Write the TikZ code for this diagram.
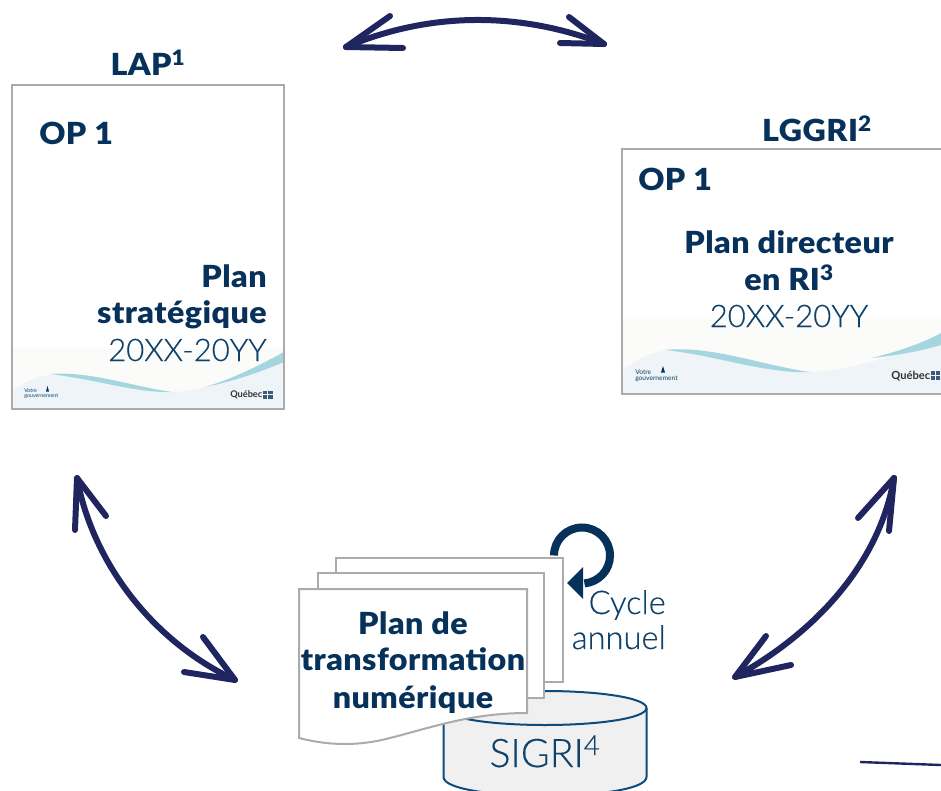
\documentclass[tikz,border=0pt]{standalone}
\usepackage{fontspec}
\setmainfont{Lato}
\newfontfamily\lightf[RawFeature={embolden=0.35}]{Lato Light}
\newfontfamily\heavyf[RawFeature={extend=1.06},LetterSpace=1.5]{Lato Black}
\usetikzlibrary{calc}
\definecolor{navy}{HTML}{20245F}
\definecolor{ink}{HTML}{06315A}
\definecolor{inkl}{HTML}{0F426B}
\definecolor{pageline}{HTML}{ABABAB}
\definecolor{wavefill}{HTML}{EEF4F7}
\definecolor{waveband}{HTML}{FBFBF9}
\definecolor{teal}{HTML}{A5D5DE}
\definecolor{cyl}{HTML}{F0F0F0}
\definecolor{cylline}{HTML}{0E4A7B}
\tikzset{
  x=0.75pt,y=-0.75pt,
  sheet/.style={draw=pageline,line width=1.5pt,fill=white},
  bigarrow/.style={draw=navy,line width=4.5pt,line cap=round,line join=round},
  boldtxt/.style={text=ink,font=\fontsize{22.8}{27.5}\selectfont\heavyf,inner sep=0pt},
  lighttxt/.style={text=inkl,font=\fontsize{23.3}{27.5}\selectfont\lightf,inner sep=0pt},
  cycletxt/.style={text=inkl,font=\fontsize{24.5}{27.5}\selectfont\lightf,inner sep=0pt},
  headtxt/.style={text=ink,font=\fontsize{22.8}{25}\selectfont\heavyf,inner sep=0pt},
}
\begin{document}
\begin{tikzpicture}
\useasboundingbox (0,0) rectangle (941,791);
% top arrow
\coordinate (ta) at (346,47); \coordinate (tb) at (604,44);
\draw[bigarrow] (ta) .. controls (430,11.5) and (520,11.5) .. (tb);
\draw[bigarrow] (390,16) -- (ta) -- (403,48);
\draw[bigarrow] (569,17) -- (tb) -- (560,43);
% left arrow
\coordinate (la) at (77,478); \coordinate (lb) at (235,680);
\draw[bigarrow] (la) .. controls (92,560) and (150,640) .. (lb);
\draw[bigarrow] (75,530) -- (la) -- (106,516);
\draw[bigarrow] (203,637) -- (lb) -- (184,672);
% right arrow
\coordinate (ra) at (894,478); \coordinate (rb) at (735,677);
\draw[bigarrow] (ra) .. controls (880,560) and (820,630) .. (rb);
\draw[bigarrow] (858,518) -- (ra) -- (889,531);
\draw[bigarrow] (766,636) -- (rb) -- (791,665);
% stray line
\coordinate (sa) at (860,762); \coordinate (sb) at (941,765);
\draw[draw=navy,line width=1.8pt] (sa) -- (sb);
% left page
\node[headtxt,anchor=base] (laplab) at (148,76) {LAP\textsuperscript{1}};
\begin{scope}
\clip (11,85) rectangle (284,409);
\fill[white] (11,85) rectangle (284,409);
\fill[waveband] (12,348) rectangle (283,408);
\fill[wavefill] (12,392) .. controls (25,380) and (40,375) .. (60,374) .. controls (100,376) and (130,392) .. (172,392) .. controls (210,392) and (250,370) .. (284,352) -- (284,409) -- (12,409) -- cycle;
\fill[teal] (50,374) .. controls (90,371) and (130,386) .. (172,392) .. controls (135,393) and (100,380) .. (50,374) -- cycle;
\fill[teal] (205,387) .. controls (235,378) and (260,365) .. (284,352) -- (284,362) .. controls (260,372) and (235,381) .. (205,387) -- cycle;
\end{scope}
\node[draw=pageline,line width=1.5pt,minimum width=272*0.75pt,minimum height=323*0.75pt,inner sep=0pt] (lap) at (147.5,247) {};
\node[boldtxt,anchor=base west] (lop) at (39,145) {OP 1};
\node[boldtxt,anchor=base east] (lp1) at (267,287) {Plan};
\node[boldtxt,anchor=base east] (lp2) at (267,324) {stratégique};
\node[lighttxt,anchor=base east] (lp3) at (267,361) {20XX-20YY};
\node[text=inkl,font=\fontsize{4}{3.8}\selectfont,align=left,inner sep=0pt,anchor=west] (lv) at (24,394) {Votre\\gouvernement};
\fill[ink] (46,391.5) -- (47.5,386) -- (49,391.5) -- cycle;
\node[text=black!80,font=\fontsize{6.9}{7}\selectfont\bfseries,inner sep=0pt,anchor=west] (lq) at (230,395) {Québec};
\foreach \i/\j in {0/0,1/0,0/1,1/1}
  \fill[ink!80] (263+\i*5.2,391+\j*4.2) rectangle ++(4.4,3.4);
% right page
\node[headtxt,anchor=base] (lgg) at (817,142) {LGGRI\textsuperscript{2}};
\begin{scope}
\clip (621,149) rectangle (941,394);
\fill[white] (621,149) rectangle (941,394);
\fill[waveband] (622,319) rectangle (941,393);
\fill[wavefill] (622,372) .. controls (635,360) and (650,352) .. (670,350) .. controls (715,352) and (760,372) .. (810,372) .. controls (860,370) and (910,350) .. (941,335) -- (941,394) -- (622,394) -- cycle;
\fill[teal] (665,350) .. controls (710,345) and (765,366) .. (810,372) .. controls (765,374) and (715,355) .. (665,350) -- cycle;
\fill[teal] (872,358) .. controls (900,351) and (925,342) .. (941,333) -- (941,345) .. controls (925,350) and (900,355) .. (872,358) -- cycle;
\end{scope}
\draw[pageline,line width=1.5pt] (943,149.5) -- (621.5,149.5) -- (621.5,393.5) -- (943,393.5);
\node[boldtxt,anchor=base west] (rop) at (638,191) {OP 1};
\node[boldtxt,anchor=base] (rp1) at (789,254) {Plan directeur};
\node[boldtxt,anchor=base] (rp2) at (789,291) {en RI\textsuperscript{3}};
\node[lighttxt,anchor=base] (rp3) at (789,327) {20XX-20YY};
\node[text=inkl,font=\fontsize{5}{4.6}\selectfont,align=left,inner sep=0pt,anchor=west] (rv) at (635,376) {Votre\\gouvernement};
\fill[ink] (661,372.5) -- (663,366) -- (665,372.5) -- cycle;
\node[text=black!80,font=\fontsize{8.4}{9}\selectfont\bfseries,inner sep=0pt,anchor=west] (rq) at (891,376) {Québec};
\foreach \i/\j in {0/0,1/0,0/1,1/1}
  \fill[ink!80] (931+\i*5,371+\j*5) rectangle ++(4,4);
% cylinder
\path[fill=cyl,draw=cylline,line width=1.5pt] (443.5,708) -- (443.5,777) .. controls (443.5,790) and (500,796) .. (545,796) .. controls (590,796) and (646.5,790) .. (646.5,777) -- (646.5,708) .. controls (646.5,698) and (600,691) .. (545,691) .. controls (490,691) and (443.5,698) .. (443.5,708) -- cycle;
\draw[draw=cylline,line width=1.5pt] (443.5,708) .. controls (443.5,718) and (490,725) .. (545,725) .. controls (600,725) and (646.5,718) .. (646.5,708);
\node[text=inkl,font=\fontsize{29.5}{32}\selectfont\lightf,inner sep=0pt,anchor=base] (sig) at (545,767) {SIGRI\textsuperscript{4}};
% cycle arrow
\coordinate (ca) at (554,555.5);
\draw[ink,line width=6pt] (ca) arc[start angle=180,end angle=445,radius=28];
\fill[ink] (567,583) -- (583,567) -- (583,599) -- cycle;
% pages
\path[sheet] (335.5,557.5) rectangle (563,682);
\path[sheet] (318,572.5) rectangle (544,698);
\path[sheet] (299,589) -- (527,589) -- (527,713) .. controls (470,713) and (430,728) .. (390,738) .. controls (360,746) and (330,746) .. (299,738) -- cycle;
\node[boldtxt,anchor=base] (p1) at (413,634) {Plan de};
\node[boldtxt,anchor=base] (p2) at (413,670) {transformation};
\node[boldtxt,anchor=base] (p3) at (413,708) {numérique};
\node[cycletxt,anchor=base east] (c1) at (666,614) {Cycle};
\node[cycletxt,anchor=base east] (c2) at (666,649) {annuel};
\end{tikzpicture}
\end{document}
